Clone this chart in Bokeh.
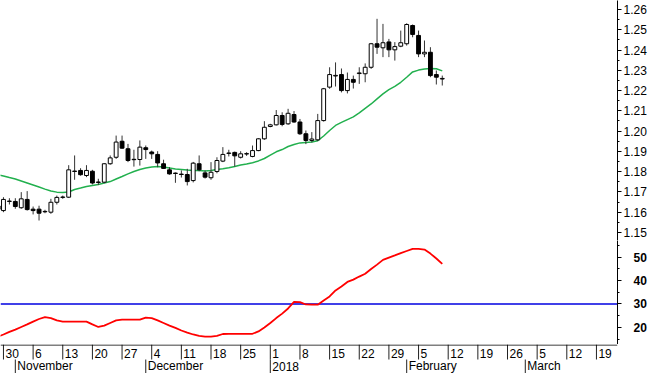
import numpy as np
import pandas as pd
from bokeh.plotting import figure
from bokeh.models import Range1d, FixedTicker, NumeralTickFormatter, Span
from bokeh.layouts import column
from bokeh.embed import file_html
from bokeh.resources import INLINE
from bokeh.core.properties import value

# ---------------- data ----------------
DATES = pd.bdate_range("2017-10-27", "2018-02-09")

OPEN = [1.1630, 1.1608, 1.1653, 1.1653, 1.1622, 1.1663, 1.1615, 1.1615, 1.1602, 1.1600,
        1.1649, 1.1673, 1.1674, 1.1803, 1.1806, 1.1781, 1.1802, 1.1749, 1.1748, 1.1839,
        1.1871, 1.1950, 1.1913, 1.1861, 1.1860, 1.1918, 1.1897, 1.1885, 1.1839, 1.1809,
        1.1793, 1.1788, 1.1786, 1.1756, 1.1839, 1.1794, 1.1770, 1.1801, 1.1852, 1.1890,
        1.1895, 1.1871, 1.1887, 1.1875, 1.1904, 1.1962, 1.2023, 1.2031, 1.2077, 1.2036,
        1.2082, 1.2045, 1.1987, 1.1954, 1.1957, 1.2052, 1.2217, 1.2272, 1.2279, 1.2200,
        1.2255, 1.2284, 1.2283, 1.2315, 1.2431, 1.2411, 1.2440, 1.2401, 1.2419, 1.2431,
        1.2521, 1.2472, 1.2381, 1.2389, 1.2279, 1.2257]
HIGH = [1.1650, 1.1674, 1.1669, 1.1669, 1.1699, 1.1704, 1.1628, 1.1632, 1.1612, 1.1666,
        1.1682, 1.1682, 1.1832, 1.1880, 1.1817, 1.1832, 1.1809, 1.1765, 1.1842, 1.1880,
        1.1978, 1.1978, 1.1937, 1.1908, 1.1954, 1.1929, 1.1904, 1.1901, 1.1859, 1.1822,
        1.1796, 1.1806, 1.1814, 1.1848, 1.1880, 1.1806, 1.1847, 1.1871, 1.1921, 1.1908,
        1.1899, 1.1901, 1.1896, 1.1929, 1.1965, 1.2049, 1.2036, 1.2104, 1.2093, 1.2110,
        1.2099, 1.2060, 1.2003, 1.1995, 1.2085, 1.2213, 1.2315, 1.2339, 1.2309, 1.2289,
        1.2274, 1.2315, 1.2334, 1.2435, 1.2554, 1.2529, 1.2455, 1.2439, 1.2496, 1.2532,
        1.2526, 1.2496, 1.2447, 1.2414, 1.2299, 1.2274]
LOW = [1.1600, 1.1600, 1.1638, 1.1617, 1.1617, 1.1608, 1.1589, 1.1559, 1.1595, 1.1592,
       1.1638, 1.1666, 1.1670, 1.1760, 1.1780, 1.1773, 1.1737, 1.1734, 1.1743, 1.1834,
       1.1863, 1.1913, 1.1847, 1.1825, 1.1830, 1.1863, 1.1863, 1.1822, 1.1814, 1.1785,
       1.1745, 1.1771, 1.1732, 1.1747, 1.1802, 1.1766, 1.1760, 1.1792, 1.1847, 1.1875,
       1.1825, 1.1865, 1.1878, 1.1871, 1.1901, 1.1957, 1.2019, 1.2028, 1.2024, 1.2031,
       1.2041, 1.1981, 1.1936, 1.1944, 1.1951, 1.2047, 1.2209, 1.2220, 1.2191, 1.2186,
       1.2210, 1.2233, 1.2241, 1.2307, 1.2381, 1.2365, 1.2365, 1.2348, 1.2414, 1.2422,
       1.2463, 1.2365, 1.2365, 1.2266, 1.2230, 1.2225]
CLOSE = [1.1615, 1.1663, 1.1655, 1.1628, 1.1666, 1.1613, 1.1608, 1.1595, 1.1604, 1.1649,
         1.1673, 1.1675, 1.1809, 1.1801, 1.1785, 1.1806, 1.1744, 1.1747, 1.1839, 1.1868,
         1.1946, 1.1916, 1.1855, 1.1859, 1.1921, 1.1909, 1.1888, 1.1843, 1.1816, 1.1789,
         1.1791, 1.1786, 1.1751, 1.1842, 1.1809, 1.1773, 1.1797, 1.1855, 1.1885, 1.1892,
         1.1878, 1.1888, 1.1889, 1.1904, 1.1962, 1.2019, 1.2031, 1.2077, 1.2033, 1.2088,
         1.2045, 1.1987, 1.1954, 1.1961, 1.2052, 1.2209, 1.2279, 1.2275, 1.2200, 1.2255,
         1.2241, 1.2287, 1.2315, 1.2431, 1.2414, 1.2436, 1.2401, 1.2417, 1.2436, 1.2526,
         1.2477, 1.2381, 1.2389, 1.2274, 1.2266, 1.2260]
MA = [1.1784, 1.1779, 1.1771, 1.1764, 1.1754, 1.1744, 1.1734, 1.1724, 1.1714, 1.1705,
      1.1699, 1.1697, 1.1700, 1.1712, 1.1719, 1.1727, 1.1732, 1.1737, 1.1744, 1.1751,
      1.1764, 1.1776, 1.1789, 1.1801, 1.1811, 1.1818, 1.1823, 1.1825, 1.1823, 1.1818,
      1.1813, 1.1811, 1.1808, 1.1806, 1.1806, 1.1803, 1.1806, 1.1811, 1.1814, 1.1819,
      1.1825, 1.1833, 1.1838, 1.1844, 1.1853, 1.1865, 1.1882, 1.1898, 1.1909, 1.1924,
      1.1934, 1.1942, 1.1944, 1.1946, 1.1953, 1.1976, 1.2003, 1.2028, 1.2043, 1.2057,
      1.2070, 1.2090, 1.2112, 1.2134, 1.2159, 1.2184, 1.2205, 1.2221, 1.2241, 1.2266,
      1.2292, 1.2301, 1.2307, 1.2309, 1.2308, 1.2297]
IND = [16.0, 17.0, 18.1, 19.1, 20.2, 21.3, 22.5, 23.6, 24.4, 24.0,
       23.0, 22.5, 22.5, 22.5, 22.5, 22.5, 21.3, 20.2, 20.8, 21.9,
       23.0, 23.3, 23.3, 23.3, 23.3, 24.2, 24.0, 23.0, 21.9, 20.8,
       19.8, 18.7, 17.8, 17.0, 16.4, 16.1, 16.1, 16.4, 17.2, 17.3,
       17.3, 17.3, 17.3, 17.3, 18.3, 20.0, 21.9, 24.0, 25.9, 28.1,
       30.9, 30.8, 29.8, 29.7, 29.7, 31.5, 33.2, 35.8, 37.5, 39.4,
       40.4, 41.7, 42.9, 44.9, 46.8, 48.8, 49.8, 50.7, 51.7, 52.6,
       53.5, 53.5, 53.2, 51.5, 49.4, 47.1]
IND_LEVEL = 30

PRICE_TICKS = [1.15, 1.16, 1.17, 1.18, 1.19, 1.20, 1.21, 1.22, 1.23, 1.24, 1.25, 1.26]
IND_TICKS = [20, 30, 40, 50]
WEEK_STARTS = pd.date_range("2017-10-30", "2018-03-19", freq="7D")
WEEK_LABELS = [str(d.day) for d in WEEK_STARTS]
MONTH_STARTS = ["2017-11-01", "2017-12-01", "2018-01-01", "2018-02-01", "2018-03-01"]
MONTH_LABELS = ["November", "December", "2018", "February", "March"]

ORIGIN = "2017-10-30"


def xpos(dates):
    d = np.array(pd.to_datetime(dates).values.astype("datetime64[D]"))
    return np.busday_count(np.datetime64(ORIGIN), d).astype(float)


# ---------------- styling ----------------
FONT = "Liberation Sans"
FS = "12px"
FW = 617
RB = 33
GREEN = "#22B04E"
RED = "#FF0000"
BLUE = "#0000E0"

x = xpos(DATES)
o = np.array(OPEN); c = np.array(CLOSE)
top = np.maximum(o, c); bot = np.minimum(o, c)
fill = ["white" if cc >= oo else "black" for oo, cc in zip(o, c)]

xr = Range1d(-0.5, 103.55)


def base(fh, yr, yloc):
    p = figure(frame_width=FW, frame_height=fh, x_range=xr, y_range=yr,
               x_axis_location=None, y_axis_location=yloc,
               output_backend="svg", toolbar_location=None,
               min_border_left=0, min_border_right=RB, min_border_top=0, min_border_bottom=0,
               outline_line_color=None, background_fill_color="white",
               border_fill_color="white")
    p.xgrid.visible = False
    p.ygrid.visible = False
    return p


def style_axis(ax, ticks, minor, fmt, standoff, bold):
    ax.ticker = FixedTicker(ticks=ticks, minor_ticks=minor)
    ax.formatter = NumeralTickFormatter(format=fmt)
    ax.major_tick_in = 0
    ax.major_tick_out = 4
    ax.minor_tick_in = 0
    ax.minor_tick_out = 2
    ax.major_label_standoff = standoff
    ax.major_label_text_font = FONT
    ax.major_label_text_font_size = FS
    ax.major_label_text_color = "black"
    ax.major_label_text_font_style = "bold" if bold else "normal"
    ax.axis_line_color = "black"
    ax.major_tick_line_color = "black"
    ax.minor_tick_line_color = "black"


# price panel
p1 = base(240, Range1d(1.14604, 1.26444), "right")
style_axis(p1.yaxis[0], PRICE_TICKS, list(np.round(np.arange(1.145, 1.2651, 0.005), 3)),
           "0.00", 2, False)
p1.line(x, MA, line_color=GREEN, line_width=1.5)
p1.segment(x0=x, y0=LOW, x1=x, y1=HIGH, line_color="#333333", line_width=1)
p1.vbar(x=x, width=0.65, top=top, bottom=bot, fill_color=fill, line_color="black", line_width=1)

# indicator panel
p2 = base(104, Range1d(12.729, 57.079), "right")
style_axis(p2.yaxis[0], IND_TICKS, [15, 25, 35, 45, 55], "0", 12, True)
p2.add_layout(Span(location=IND_LEVEL, dimension="width", line_color=BLUE, line_width=1.6,
                   level="underlay"))
p2.line(x, IND, line_color=RED, line_width=1.8)

# date strip
p3 = base(29, Range1d(0, 29), None)
p3.add_layout(Span(location=28.5, dimension="width", line_color="black", line_width=1))
wx = xpos(WEEK_STARTS)
p3.segment(x0=wx, y0=14, x1=wx, y1=29, line_color="#222222", line_width=1)
p3.text(x=wx, y=20.5, text=WEEK_LABELS, x_offset=2, text_align="left", text_baseline="middle",
        text_font=value(FONT), text_font_size=value(FS), text_color="black")
mx = xpos(MONTH_STARTS)
p3.segment(x0=mx, y0=0, x1=mx, y1=14, line_color="#222222", line_width=1)
p3.text(x=mx, y=7.5, text=MONTH_LABELS, x_offset=2, text_align="left", text_baseline="middle",
        text_font=value(FONT), text_font_size=value(FS), text_color="black")

layout = column(p1, p2, p3, spacing=0)
open("out.html", "w").write(file_html(layout, INLINE))
